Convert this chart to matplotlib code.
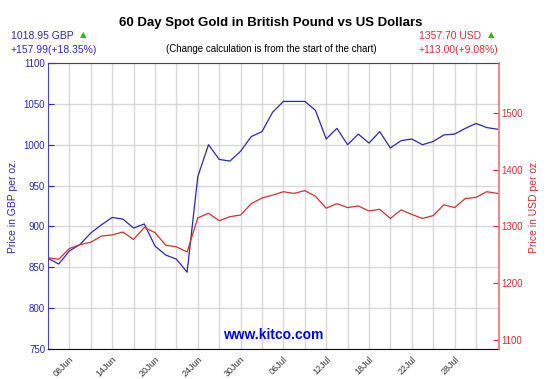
# 60 day spot gold, GBP vs USD, kitco style chart
import matplotlib
matplotlib.use('Agg')
from matplotlib import pyplot as plt

plt.rcParams['font.family'] = ['Liberation Sans', 'DejaVu Sans']

# Daily closes (one point per trading day, 06 Jun -> 03 Aug)
gbp = [861, 854, 870, 878, 892, 902, 911, 909, 898, 903,
       876, 865, 860, 844, 961, 1000, 982, 980, 992, 1010,
       1016, 1040, 1053, 1053, 1053, 1042, 1007, 1020, 1000, 1013,
       1002, 1016, 996, 1005, 1007, 1000, 1004, 1012, 1013, 1020,
       1026, 1021, 1019]
usd = [1245, 1242, 1261, 1268, 1272, 1283, 1285, 1290, 1277, 1298,
       1289, 1267, 1264, 1255, 1315, 1323, 1310, 1317, 1320, 1340,
       1350, 1355, 1361, 1358, 1363, 1353, 1332, 1340, 1333, 1336,
       1327, 1330, 1314, 1329, 1321, 1314, 1319, 1338, 1333, 1349,
       1351, 1361, 1358]
tick_labels = ['08Jun', '14Jun', '20Jun', '24Jun', '30Jun',
               '06Jul', '12Jul', '18Jul', '22Jul', '28Jul']

blue = '#2a2aa8'
red = '#cc3333'
days = range(len(gbp))

fig = plt.figure(figsize=(5.5, 3.79), dpi=100)
ax = fig.add_axes([48 / 550, 30 / 379, 451 / 550, 286 / 379])
ax2 = ax.twinx()

# the lines
ax.plot(days, gbp, color=blue, lw=0.9, zorder=3)
ax2.plot(days, usd, color=red, lw=0.9, zorder=3)

ax.set_xlim(0, 42.15)
ax.set_ylim(750, 1100)
ax2.set_ylim(1084.2, 1587.5)

# grid every 2 trading days, labels every 4
ax.set_xticks(range(2, 42, 4))
ax.set_xticks(range(4, 42, 4), minor=True)
ax.set_xticklabels(tick_labels, rotation=45, ha='right', va='top',
                   rotation_mode='anchor', fontsize=6.5, color='#333333')
ax.tick_params(axis='x', which='both', length=0, pad=4)
ax.set_yticks(range(750, 1101, 50))
ax.tick_params(axis='y', direction='in', length=4, colors=blue,
               labelsize=7, pad=2)
ax.grid(True, which='both', color='#d8d8d8', lw=1.0)
ax.set_axisbelow(True)

ax2.set_yticks(range(1100, 1501, 100))
ax2.tick_params(axis='y', direction='in', length=4, colors=red,
                labelsize=7, pad=2)

# spines
ax.spines['left'].set_color('#4444bb')
ax.spines['bottom'].set_color('#111111')
ax.spines['top'].set_color('#444444')
ax.spines['right'].set_visible(False)
for s in ['left', 'top', 'bottom']:
    ax2.spines[s].set_visible(False)
ax2.spines['right'].set_color('#e07777')
ax2.spines['right'].set_linewidth(1.2)

ax.set_ylabel('Price in GBP per oz.', color=blue, fontsize=7.5, labelpad=4)
ax2.set_ylabel('Price in USD per oz.', color=red, fontsize=7.5, labelpad=4)

# titles and the change boxes
fig.text(271 / 550, 1 - 23 / 379, '60 Day Spot Gold in British Pound vs US Dollars',
         ha='center', va='center', fontsize=9.5, fontweight='bold')
fig.text(271 / 550, 1 - 49 / 379, '(Change calculation is from the start of the chart)',
         ha='center', va='center', fontsize=7)
fig.text(11 / 550, 1 - 36 / 379, '1018.95 GBP', color=blue, fontsize=7.5, va='center')
fig.text(11 / 550, 1 - 50 / 379, '+157.99(+18.35%)', color=blue, fontsize=7.5, va='center')
fig.text(419 / 550, 1 - 36 / 379, '1357.70 USD', color=red, fontsize=7.5, va='center')
fig.text(419 / 550, 1 - 50 / 379, '+113.00(+9.08%)', color=red, fontsize=7.5, va='center')
for x in [80, 488]:
    fig.text(x / 550, 1 - 35 / 379, '\u25b2', color='#22bb22', fontsize=6,
             va='center', family='DejaVu Sans')

ax.text(0.5, 0.025, 'www.kitco.com', transform=ax.transAxes, ha='center',
        va='bottom', color='#0000ee', fontsize=10, fontweight='bold')

fig.savefig('out.png', dpi=100)
